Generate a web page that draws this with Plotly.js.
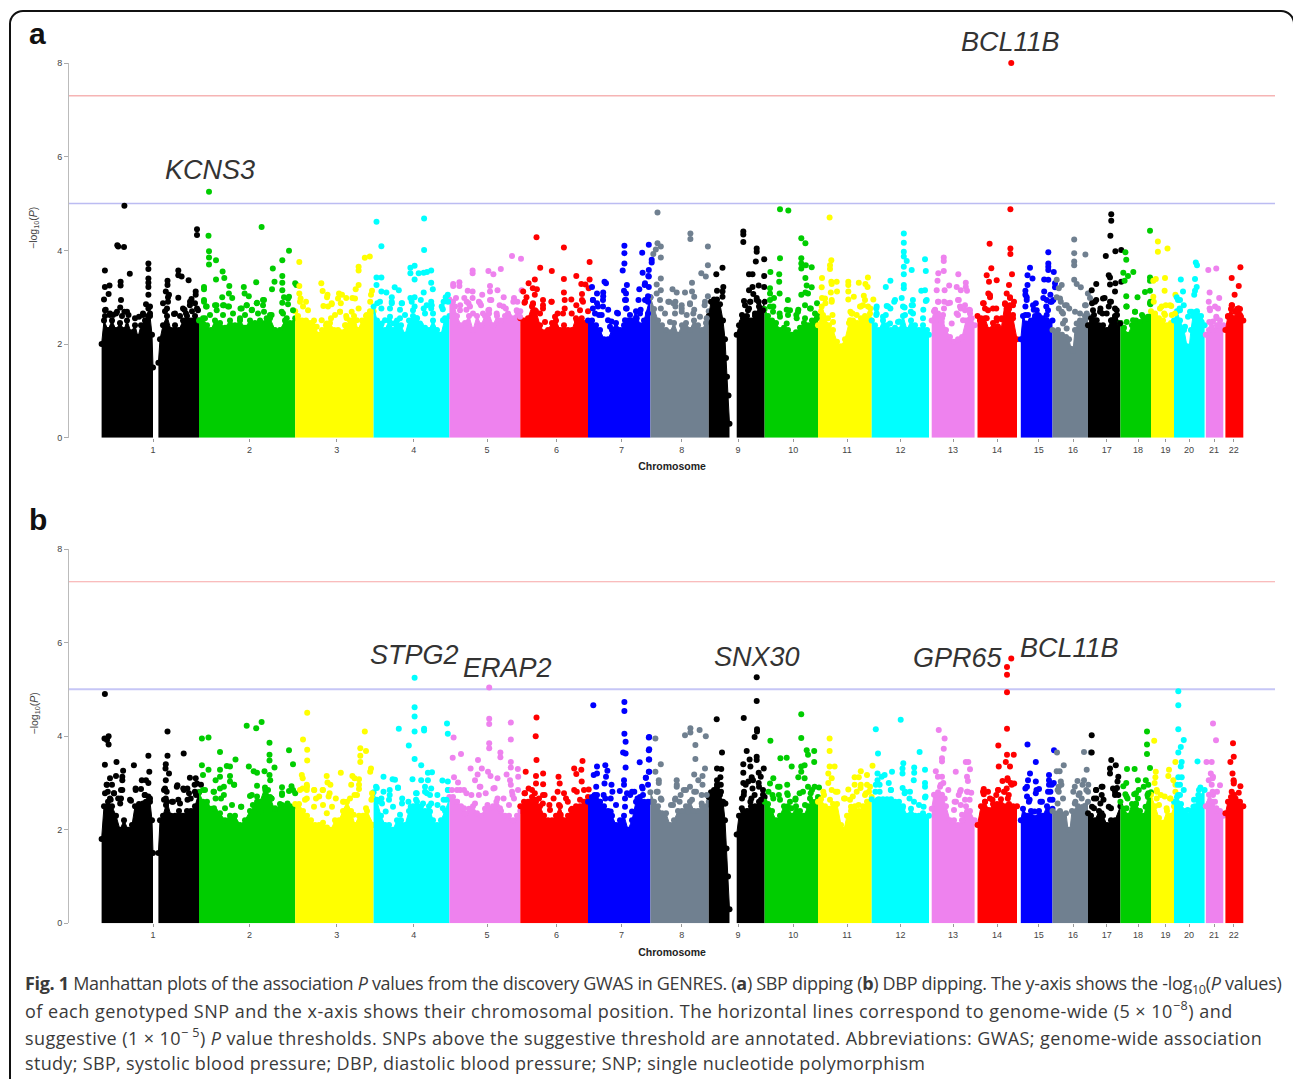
<!DOCTYPE html>
<html>
<head>
<meta charset="utf-8">
<script src="https://cdn.plot.ly/plotly-3.0.1.min.js"></script>
<style>
html,body{margin:0;padding:0;background:#fff;overflow:hidden}
#frame{position:absolute;left:9px;top:10px;width:1286px;height:1090px;box-sizing:border-box;border:2px solid #111;border-radius:14px}
#chart{position:absolute;left:0;top:0;width:1293px;height:1079px}
.annotation[data-index="9"] text{letter-spacing:-0.31px}
.annotation[data-index="10"] text{letter-spacing:0.49px}
.annotation[data-index="11"] text{letter-spacing:0.42px}
.annotation[data-index="12"] text{letter-spacing:0.33px}
</style>
</head>
<body>
<div id="frame"></div>
<div id="chart"></div>
<script>
// Chromosome labels and where their ticks sit on the cumulative genome axis
const chromLabels = ['1','2','3','4','5','6','7','8','9','10','11','12','13','14','15','16','17','18','19','20','21','22'];
const chromTicks = [153,249.6,336.7,413.8,487,556.4,621.5,681.7,738,793.3,847,900.4,953,997,1038.8,1073,1106.7,1138,1165.4,1189,1214,1233.8];
const chromColors = ['#000000','#00cd00','#ffff00','#00ffff','#ee82ee','#ff0000','#0000ff','#708090','#000000','#00cd00','#ffff00','#00ffff','#ee82ee','#ff0000','#0000ff','#708090','#000000','#00cd00','#ffff00','#00ffff','#ee82ee','#ff0000'];
// Chromosomes 1 and 9 have a centromere gap, so they have two solid segments
const segmentChrom = [1,1,2,3,4,5,6,7,8,9,9,10,11,12,13,14,15,16,17,18,19,20,21,22];

// Panel a, SBP dipping: top of the solid mass of SNPs [position, -log10 P]
const sbpCrest = [
[[101.6,2.0],[104,2.5],[108,2.3],[112,2.5],[116,2.3],[120,2.45],[124,2.3],[127,2.5],[131,2.25],[135,2.4],[138,2.15],[141,2.4],[145,2.5],[148,2.6],[150,2.6],[152,2.2],[153,1.5]],
[[158.4,1.6],[160,2.1],[163,2.4],[167,2.6],[171,2.3],[175,2.4],[179,2.3],[183,2.5],[187,2.6],[191,2.5],[195,2.6],[199,2.5]],
[[199,2.5],[203,2.55],[207,2.4],[211,2.3],[215,2.5],[220,2.45],[225,2.35],[230,2.5],[235,2.4],[240,2.5],[245,2.35],[250,2.5],[255,2.45],[260,2.5],[265,2.45],[270,2.55],[275,2.3],[280,2.3],[285,2.5],[290,2.45],[295.2,2.55]],
[[295.2,2.7],[298,2.6],[302,2.5],[306,2.5],[310,2.45],[314,2.5],[318,2.2],[322,2.3],[326,2.4],[330,2.45],[334,2.3],[338,2.3],[342,2.25],[346,2.4],[350,2.5],[354,2.6],[358,2.3],[362,2.5],[366,2.6],[370,2.7],[373.6,2.7]],
[[373.6,2.8],[377,2.5],[381,2.4],[385,2.3],[389,2.5],[393,2.3],[397,2.5],[401,2.4],[405,2.2],[409,2.5],[413,2.6],[417,2.55],[421,2.4],[425,2.35],[429,2.3],[433,2.5],[437,2.3],[441,2.2],[445,2.55],[449.4,2.6]],
[[449.4,2.95],[453,2.9],[457,2.6],[461,2.4],[465,2.45],[469,2.6],[473,2.3],[477,2.6],[481,2.4],[485,2.6],[489,2.65],[493,2.4],[497,2.6],[501,2.5],[505,2.6],[509,2.6],[513,2.55],[517,2.7],[520.3,2.7]],
[[520.3,2.55],[524,2.5],[528,2.55],[532,2.8],[536,2.7],[540,2.4],[544,2.25],[548,2.3],[552,2.45],[556,2.5],[560,2.3],[564,2.4],[568,2.3],[572,2.3],[576,2.55],[580,2.5],[584,2.45],[588,2.4]],
[[588,2.5],[592,2.5],[596,2.4],[600,2.3],[604,2.1],[608,2.1],[612,2.3],[616,2.45],[620,2.3],[624,2.4],[628,2.5],[632,2.5],[636,2.7],[640,2.4],[644,2.5],[650.4,3.0]],
[[650.4,3],[654,2.75],[658,2.5],[662,2.4],[666,2.3],[670,2.25],[674,2.45],[678,2.2],[682,2.4],[686,2.45],[690,2.3],[694,2.5],[698,2.4],[702,2.3],[706,2.45],[708.75,2.7]],
[[708.75,2.6],[711,2.9],[714,2.95],[717,2.95],[720,2.85],[723,2.5],[725,2.1],[726,1.7],[727,1.3],[728.5,0.9],[729.5,0.3]],
[[736.7,2.2],[739,2.4],[743,2.55],[747,2.6],[751,2.5],[755,2.6],[759,2.8],[762,2.75],[764.6,2.9]],
[[764.6,2.75],[768,2.6],[772,2.5],[776,2.45],[780,2.3],[784,2.35],[788,2.3],[792,2.2],[796,2.25],[800,2.35],[804,2.45],[808,2.4],[812,2.5],[818,2.6]],
[[818,2.4],[821,2.7],[825,2.55],[829,2.4],[833,2.3],[837,2.05],[841,1.95],[845,2.1],[849,2.45],[853,2.5],[857,2.45],[861,2.55],[865,2.6],[869,2.55],[871.7,2.5]],
[[871.7,2.5],[875,2.4],[879,2.3],[883,2.5],[887,2.4],[891,2.3],[895,2.35],[899,2.3],[903,2.6],[907,2.3],[911,2.5],[915,2.4],[919,2.3],[923,2.4],[927,2.3],[929,2.2]],
[[931.7,2.5],[934,2.7],[938,2.65],[942,2.55],[946,2.3],[950,2.15],[954,2.05],[958,2.1],[962,2.15],[966,2.5],[970,2.65],[974.6,2.4]],
[[977.5,2.6],[981,2.55],[985,2.55],[989,2.3],[993,2.45],[997,2.3],[1001,2.3],[1005,2.85],[1009,2.75],[1013,2.55],[1017,2.1]],
[[1020.8,2.1],[1023,2.6],[1027,2.4],[1031,2.5],[1035,2.6],[1039,2.6],[1043,2.55],[1047,2.5],[1052.5,2.5]],
[[1052.5,2.3],[1058,2.3],[1062,2.2],[1066,2.15],[1069,2.1],[1071,1.9],[1073,1.85],[1075,2.3],[1080,2.5],[1085,2.6],[1088,2.6]],
[[1088,2.4],[1091,2.55],[1095,2.5],[1099,2.4],[1103,2.4],[1107,2.3],[1111,2.5],[1115,2.6],[1120.4,2.45]],
[[1120.4,2.45],[1124,2.35],[1128,2.2],[1132,2.4],[1136,2.5],[1140,2.45],[1144,2.5],[1148,2.55],[1151,2.6]],
[[1151,2.7],[1155,2.6],[1159,2.55],[1163,2.5],[1167,2.4],[1171,2.45],[1174,2.4]],
[[1174,2.5],[1177,2.7],[1180,2.5],[1184,2.3],[1187,1.95],[1189,1.9],[1191,2.3],[1193,2.6],[1197,2.7],[1201,2.6],[1204.6,2.4]],
[[1205.8,2.2],[1209,2.3],[1213,2.3],[1217,2.4],[1220,2.5],[1223.3,2.4]],
[[1225.4,2.3],[1228,2.6],[1231,2.75],[1234,2.55],[1237,2.75],[1240,2.75],[1243.3,2.5]]
];

// Panel a: individually visible SNPs per chromosome [position, -log10 P]
const sbpDots = [
[[104.9,3.57],[104.9,3.22],[109.5,3.25],[108.6,3.07],[104,2.95],[117.3,4.11],[118.2,4.08],[124,4.07],[124.4,4.95],[129.8,3.5],[120.6,3.33],[120.6,3.25],[121,2.94],[120.2,2.78],[148.4,3.72],[148.4,3.6],[148.4,3.4],[148.4,3.31],[148.4,3.22],[148.4,3.05],[146,2.85],[148.4,2.76],[105.7,2.73],[109.9,2.62],[116,2.65],[124.4,2.69],[128.5,2.62],[143,2.62],[167.5,3.35],[167.5,3.26],[165.8,3.12],[169,3.05],[168,2.9],[167,2.76],[178.3,3.57],[178.3,3.47],[181.6,3.44],[188.6,3.36],[178.3,2.99],[197,4.45],[197,4.33],[195.7,3.12],[195.7,3.05],[191.5,2.96],[174,2.64],[184.5,2.73],[189.9,2.83],[197,2.76]],
[[209,5.25],[208.5,4.31],[209,3.98],[209,3.85],[209,3.7],[216,3.79],[204,3.22],[204,3.17],[216,3.38],[222.6,3.55],[224.3,3.41],[229.3,3.24],[228.9,3.08],[222.2,3],[232.2,2.98],[204,2.9],[206,2.8],[216.4,2.83],[223.9,2.83],[229,2.8],[243.8,3.22],[244.6,3.08],[248.8,3.02],[256.2,3.32],[261.6,4.5],[272.8,3.61],[274.5,3.33],[272,3.17],[282.3,3.79],[289,3.99],[282.3,3.45],[282.3,3.31],[282.3,3.15],[284,3],[282.3,2.88],[289,3.01],[295.2,3.3],[296.4,3.26],[288,2.85],[240.5,2.76],[246.7,2.83],[252,2.73],[257,2.88],[264,2.94],[264,2.69],[271.6,2.62],[283,2.65]],
[[299.3,3.75],[299.3,3.24],[299.3,3.08],[300.6,2.97],[306,2.9],[321.3,3.3],[322.6,3.13],[327.5,3.05],[327,3],[323.4,2.81],[331.7,2.85],[339,3.08],[342,3.05],[346.2,2.98],[340.8,2.87],[340,2.69],[352.4,2.98],[358.6,3.65],[358.6,3.57],[358.6,3.26],[355.7,3.17],[364.8,3.84],[369.8,3.87],[372,3.14],[371,3.05],[370.2,2.9],[358.6,2.76],[346.2,2.6],[331,2.55]],
[[376.5,4.61],[381.4,4.09],[376.5,3.42],[381.4,3.42],[376.5,3.26],[381.4,3.12],[386.4,3.1],[394.7,3.21],[398.8,3.15],[391.8,3],[391.8,2.87],[377.3,2.87],[381.4,2.76],[402,2.87],[400,2.73],[414.6,3.67],[410.4,3.63],[410.4,3.51],[414.6,3.38],[418.7,3.51],[424.1,4.68],[424.1,4.01],[423.7,3.52],[427,3.54],[431.2,3.57],[431.2,3.31],[432.8,3.17],[423.7,3.1],[414.6,3],[410.4,2.98],[420.8,2.94],[431.2,2.9],[423.7,2.76],[414.6,2.8],[445.7,3],[447.8,3.05],[443.6,2.9],[442.8,2.74],[431.2,2.76]],
[[453.2,3.28],[459.4,3.32],[453.2,3.24],[459.4,3.24],[467.7,3.14],[472.6,3.12],[472.6,3.57],[472.6,3.51],[488.4,3.56],[493.4,3.49],[500.8,3.6],[512,3.88],[521,3.82],[490,3.24],[490,3.12],[497.5,3.15],[503.7,3],[482.2,3.05],[472.6,2.98],[456,2.98],[464.3,2.98],[478.9,2.9],[491.3,2.94],[468.5,2.87],[514,2.98],[517.4,2.9],[499.6,2.83],[481,2.83],[466.4,2.73],[521.6,3.15],[460.2,2.83],[505.8,2.76],[489.2,2.73]],
[[536.5,4.28],[563.9,4.06],[589.6,3.75],[540.2,3.63],[551.8,3.56],[563.9,3.39],[534.8,3.38],[528.6,3.3],[532.8,3.19],[536.9,3.17],[523.2,3.12],[526.5,3],[534.8,3.05],[524.5,2.88],[532.8,2.85],[543,2.94],[551.4,2.9],[563.9,3.1],[564.7,2.94],[564.7,2.76],[571.3,2.95],[576.3,3.45],[581.3,3.28],[585.4,3.27],[589.6,3.38],[582,3.07],[582,2.94],[576.3,2.83],[588.7,3.19],[543,2.76],[557.6,2.65],[534.8,2.65],[588,2.7]],
[[592,3.22],[597,3.08],[603.2,3.1],[603.2,3.02],[592.9,2.94],[604.5,3.33],[606,3.3],[597,2.87],[592.9,2.76],[603,2.8],[608.2,2.73],[599,2.62],[617,2.67],[611.5,2.48],[624.4,4.1],[624.4,3.94],[624.4,3.72],[622.7,3.57],[626.9,3.26],[624,3.14],[626,3.08],[626,2.94],[626,2.76],[642.2,3.95],[648.8,4.12],[642.6,3.52],[648.8,3.58],[648.8,3.44],[644.7,3.26],[639.3,3.17],[648.8,3.22],[638.5,2.94],[646.8,2.94],[640.6,2.73],[651.7,3.8],[651.7,3.74],[648.3,3.45],[645,3.3],[648,3.02],[645,2.94]],
[[657.5,4.81],[657.5,4.15],[660.8,4.08],[655.8,4.02],[653.3,3.92],[660.8,3.85],[660.8,3.4],[656.7,3.27],[660.8,3.15],[656.7,3.08],[672.5,3.17],[676.7,3.1],[685,3.1],[692,3.12],[692,3.31],[690.4,4.36],[690.4,4.24],[707.9,4.08],[707.9,3.68],[701.3,3.51],[705.8,3.44],[707.9,3.02],[694.2,3.01],[669.2,2.9],[675.4,2.9],[690,2.85],[681.7,2.76],[675.4,2.8],[704.6,2.83],[694.2,2.73],[660.8,2.76]],
[[716.3,3.49],[722.5,3.63],[723.3,3.22],[717,3.14],[722.5,3.12],[722.5,3.01],[715,2.9],[743.3,4.4],[743.3,4.34],[743.3,4.18],[756.7,4.04],[756.7,3.97],[755.8,3.76],[764.2,3.81],[749,3.49],[752.5,3.49],[764.2,3.45],[758.7,3.25],[764.2,3.22],[752.5,3.22],[749,3.15],[753.3,3.07],[756.7,2.98],[744,2.92],[750.4,2.9],[758.7,2.9],[742,2.62],[749,2.76]],
[[780,4.88],[788.3,4.85],[801.3,4.26],[805.4,4.15],[780,3.83],[801.3,3.83],[801.3,3.72],[801.3,3.61],[805.8,3.68],[811.7,3.64],[770.4,3.54],[779.2,3.49],[779.2,3.33],[770,3.19],[770,3.08],[779.6,3.08],[805.4,3.41],[806.7,3.25],[811.7,3.21],[805.4,3.1],[801.3,3.05],[808,3.08],[774,2.98],[770,2.94],[773.3,2.8],[787.9,2.94],[805,2.83],[817,2.87],[786.7,2.73],[798.3,2.73],[796.3,2.62],[779.6,2.65],[810.8,2.76]],
[[829.6,4.7],[831.3,3.79],[830,3.68],[830,3.6],[822,3.41],[831.3,3.33],[836.7,3.33],[821.7,3.21],[831.7,3.28],[830.8,3.1],[837,3.12],[848.3,3.33],[848.3,3.26],[848.3,3.12],[858.8,3.31],[867.9,3.42],[865.4,3.28],[867.5,3.22],[853.8,3.01],[863.8,3.03],[848.3,2.95],[865,2.94],[873.3,2.95],[822,2.98],[825.4,2.87],[831.7,2.9],[860.8,2.8],[850.4,2.69],[832.5,2.62],[870.4,2.76],[852.5,2.65]],
[[903.8,4.36],[903.8,4.16],[903.8,3.97],[903.8,3.87],[906.7,3.77],[903.8,3.65],[911.7,3.58],[925,3.81],[925.8,3.56],[890.4,3.35],[885.8,3.22],[903.8,3.49],[903.8,3.26],[903.8,3.19],[921.3,3.14],[925,3.15],[901.7,2.98],[894.2,2.9],[925.8,2.92],[912.9,2.94],[912.9,2.83],[876.3,2.76],[876.3,2.62],[886.7,2.81],[890.4,2.76],[904.6,2.78],[910.8,2.69],[923.3,2.73],[885.8,2.62],[899.2,2.48]],
[[943.75,3.85],[943.75,3.77],[943.75,3.56],[938.3,3.51],[958.3,3.49],[937.5,3.35],[965.8,3.31],[965.8,3.22],[949.2,3.25],[944.6,3.15],[936.7,3.15],[956.7,3.22],[960.8,3.15],[967,3.14],[938.3,2.9],[944.2,2.9],[950,2.88],[958.8,2.94],[935,2.73],[960.8,2.76],[965,2.83],[969.2,2.73],[956.7,2.65],[944,2.76]],
[[989.6,4.14],[991.3,3.62],[1010.4,4.88],[1011.25,8],[1010.4,4.04],[1010.4,3.92],[1012,3.49],[986.7,3.47],[989,3.33],[996.7,3.36],[988.3,3.08],[990,3],[983.75,2.87],[985,2.76],[996.25,2.76],[1009,3.26],[1006.7,3.08],[1010,2.98],[1014,2.9],[1010,2.83],[1006.7,2.76],[997.5,2.38],[996.7,2.5],[1001.7,2.53]],
[[1030,3.63],[1027.5,3.47],[1032.5,3.4],[1027.5,3.26],[1025.4,3.14],[1025.4,3.05],[1026.7,2.94],[1025.4,2.8],[1048.3,3.96],[1048.3,3.72],[1048.3,3.65],[1048.3,3.58],[1053.75,3.54],[1044.2,3.38],[1048.3,3.37],[1055,3.3],[1055,3.21],[1044.2,3.12],[1050.4,3.05],[1043.3,2.98],[1050.4,2.9],[1035.8,2.87],[1053.3,2.94],[1033.75,2.73],[1046.25,2.8],[1025.4,2.62],[1038,2.62]],
[[1074.2,4.23],[1074.2,3.94],[1085.4,3.91],[1074.2,3.76],[1074.2,3.68],[1074.2,3.37],[1076.7,3.28],[1080.8,3.21],[1056.7,3.37],[1061.7,3.26],[1058.8,3.19],[1056.7,3],[1060.8,2.9],[1065,2.83],[1087.9,3.08],[1090,2.98],[1085.8,2.83],[1058.8,2.76],[1063,2.65],[1065,2.5],[1069.2,2.76]],
[[1111.25,4.77],[1111.25,4.63],[1110.4,4.31],[1105.8,3.88],[1115.4,3.98],[1121.25,4.01],[1108.75,3.47],[1110,3.42],[1096.25,3.28],[1091.7,3.15],[1110,3.27],[1115.4,3.3],[1121.25,3.33],[1115,3.12],[1096.25,2.94],[1104.6,2.98],[1111,2.9],[1092,2.87],[1100.4,2.76],[1108.75,2.8],[1115,2.76],[1094,2.62],[1102.5,2.65],[1117,2.62]],
[[1150,4.42],[1125.4,3.96],[1126.25,3.8],[1133.3,3.54],[1123.3,3.52],[1128,3.45],[1124.6,3.35],[1150,3.42],[1150,3.35],[1150,3.14],[1145,3.11],[1137.5,3],[1126.25,3.02],[1126.25,2.8],[1150.4,2.9],[1150.4,2.85],[1135,2.69],[1142,2.62]],
[[1157.9,4.19],[1157.9,3.97],[1167.5,4.04],[1155.8,3.39],[1165,3.41],[1153.3,3.35],[1164.6,3.14],[1153.3,3.01],[1153.75,2.9],[1160,2.76],[1165.8,2.83],[1171.25,2.81],[1164.2,2.65],[1175.4,3.05]],
[[1195.8,3.74],[1197,3.68],[1180.8,3.38],[1195,3.39],[1196.7,3.22],[1195,3.14],[1183,3.12],[1194.2,3.05],[1176.7,3],[1180,2.94],[1183.75,2.83],[1179.6,2.76],[1190,2.69],[1196.25,2.69],[1200.4,2.5]],
[[1208.3,3.58],[1216.25,3.61],[1209.6,3.1],[1208.75,2.9],[1219.2,2.98],[1218,2.76],[1216.25,2.58],[1209.6,2.76],[1213,2.48]],
[[1240.4,3.64],[1231.7,3.41],[1238.75,3.24],[1234.6,3.05],[1232,2.83],[1238.75,2.76],[1241,2.58]]
];

const sbpBand = [
[[105,2.72],[105,2.6],[110,2.65],[117,2.69],[113,2.62],[127,2.69],[122,2.6],[135,2.55],[143,2.65],[139,2.58],[150,2.8],[150,2.65],[163,2.87],[168,3.0],[165,2.7],[175,2.65],[183,2.76],[180,2.6],[190,2.9],[195,2.87],[198,2.72],[186,2.65],[192,2.7]],
[[204,2.94],[206.7,2.8],[215,2.83],[223,2.83],[228,2.8],[216.7,2.72],[241.7,2.76],[246.7,2.83],[256.7,2.87],[263,2.94],[263,2.83],[251.7,2.72],[245,2.62],[258,2.65],[270,2.62],[281.7,2.69],[210,2.62],[223,2.62],[233,2.65],[240,2.55],[286.7,2.55],[293,2.72],[288,2.97],[266.7,2.55],[205,2.55]],
[[300,2.9],[303,2.8],[308,2.72],[321.7,2.51],[328,2.8],[331.7,2.87],[335,2.62],[340,2.69],[346.7,2.55],[351.7,2.69],[356.7,2.51],[363,2.37],[366.7,2.62],[370,2.51],[355,2.97],[338,2.97],[316.7,2.37],[326.7,2.44],[345,2.4]],
[[380,2.9],[385,2.51],[390,2.76],[391.7,2.9],[390,2.58],[400,2.55],[401.7,2.87],[411.7,2.9],[413,2.72],[416.7,2.55],[420,2.44],[425,2.65],[431.7,2.83],[433,2.65],[443,2.51],[448,2.9],[441.7,2.8],[405,2.62],[426.7,2.83],[381.7,2.44],[393.3,2.44],[410,2.37]],
[[455,2.8],[460,2.72],[466.7,2.9],[470,2.8],[480,2.87],[488.3,2.72],[490,2.94],[503.3,2.8],[513.3,2.9],[516.7,2.72],[473,2.65],[483,2.65],[496.7,2.65],[508,2.65],[520,2.58]],
[[525,2.9],[533,2.87],[535,2.72],[543,2.83],[551.7,2.9],[540,2.65],[555,2.58],[563,2.65],[571.7,2.65],[580,2.72],[583,2.9],[581.7,2.55],[533,2.58],[545,2.47],[576.7,2.51]],
[[593,2.94],[598,2.8],[603,2.94],[595,2.65],[601.7,2.62],[608,2.51],[618,2.65],[625,2.94],[626.7,2.76],[630,2.62],[640,2.65],[648,2.9],[648,2.65],[625,2.51],[636.7,2.55],[610,2.37]],
[[660,2.94],[668.3,2.9],[673.3,2.87],[681.7,2.83],[690,2.87],[681.7,2.69],[693.3,2.65],[700,2.58],[705,2.9],[665,2.65],[675,2.65],[686.7,2.62],[670,2.47],[706.7,2.55]],
[[745,2.83],[750,2.9],[756.7,2.94],[748,2.72],[755,2.65],[763,2.72],[741.7,2.47],[745,2.58]],
[[770,2.8],[773,2.69],[790,2.72],[798,2.69],[810,2.76],[815,2.65],[788,2.62],[780,2.58],[796.7,2.55],[805,2.55],[786.7,2.44],[816.7,2.55]],
[[821.7,2.8],[825,2.97],[831.7,2.94],[823,2.62],[828,2.55],[833,2.47],[851.7,2.65],[860,2.8],[863,2.83],[850,2.51],[856.7,2.62],[868,2.8],[870,2.65]],
[[876.7,2.8],[876.7,2.65],[883,2.58],[898,2.47],[905,2.62],[911.7,2.83],[913,2.65],[923,2.55],[926.7,2.94],[888,2.8],[895,2.94],[903,2.8],[890,2.44]],
[[935,2.72],[938,2.9],[948,2.87],[958,2.94],[960,2.8],[970,2.72],[965,2.72],[943,2.62],[941.7,2.47],[958,2.62],[963,2.51],[971.7,2.55],[951.7,2.44]],
[[983,2.87],[988,2.72],[993,2.76],[980,2.51],[996.7,2.55],[1001.7,2.55],[1010,3],[1005,2.87],[1013,2.83],[1008,2.69],[1013,2.62],[990,3.04],[998,2.37],[986.7,2.55]],
[[1026.7,3],[1033,2.83],[1036.7,2.72],[1028,2.62],[1040,2.51],[1046.7,2.94],[1051.7,2.9],[1048,2.72],[1046.7,2.62],[1026.7,2.44],[1035,2.55]],
[[1060,2.97],[1066.7,2.83],[1061.7,2.69],[1063,2.44],[1066.7,2.33],[1056.7,2.23],[1075,2.69],[1085,2.83],[1080,2.65],[1086.7,2.65],[1076.7,2.44]],
[[1095,2.9],[1103,2.97],[1110,2.9],[1093,2.72],[1100,2.69],[1106.7,2.65],[1116.7,2.72],[1115,2.55],[1096.7,2.51],[1111.7,2.51],[1120,2.44]],
[[1126.7,2.8],[1135,2.69],[1143,2.58],[1126.7,2.47],[1133,2.51],[1140,2.47],[1148,2.58],[1150,2.87]],
[[1155,2.65],[1161.7,2.8],[1170,2.83],[1171.7,2.62],[1165,2.62],[1175,2.65]],
[[1178,2.94],[1180,2.72],[1191.7,2.69],[1196.7,2.65],[1200,2.58],[1201.7,2.47],[1185,2.37],[1188,2.58]],
[[1215,2.8],[1210,2.72],[1209.3,2.47],[1216.7,2.55],[1218,2.4],[1211.7,2.37]],
[[1231.7,2.83],[1238.3,2.76],[1228,2.58],[1240,2.62],[1235,2.69],[1238,2.51],[1230,2.44]]
];

// Panel b, DBP dipping: top of the solid mass of SNPs [position, -log10 P]
const dbpCrest = [
[[101.6,1.8],[104,2.5],[108,2.6],[112,2.5],[116,2.3],[120,2.0],[124,2.2],[128,2.0],[132,2.1],[135,2.5],[139,2.55],[143,2.5],[146,2.6],[150,2.6],[152,2.2],[153,1.5]],
[[158.4,1.5],[160,2.2],[163,2.3],[167,2.6],[171,2.3],[175,2.3],[179,2.4],[183,2.3],[187,2.4],[191,2.4],[195,2.5],[199,2.8]],
[[199,2.8],[203,2.6],[207,2.5],[211,2.45],[215,2.4],[220,2.35],[225,2.2],[230,2.3],[235,2.3],[240,2.1],[245,2.2],[250,2.4],[255,2.5],[260,2.6],[265,2.9],[270,2.7],[275,2.4],[280,2.55],[285,2.5],[290,2.5],[295.2,2.5]],
[[295.2,2.55],[299,2.55],[303,2.4],[307,2.3],[311,2.2],[315,2.1],[319,2.1],[323,2.15],[327,2.05],[331,2.0],[335,2.2],[339,2.2],[343,2.4],[347,2.6],[351,2.4],[355,2.1],[359,2.3],[363,2.3],[367,2.4],[373.6,2.1]],
[[373.6,2.8],[377,2.6],[381,2.3],[385,2.1],[389,2.1],[393,2.0],[397,2.2],[401,2.2],[405,2.1],[409,2.4],[413,2.5],[417,2.6],[421,2.5],[425,2.4],[429,2.5],[433,2.2],[437,2.1],[441,2.2],[445,2.4],[449.4,2.65]],
[[449.4,2.7],[453,2.7],[457,2.6],[461,2.5],[465,2.35],[469,2.45],[473,2.5],[477,2.35],[481,2.3],[485,2.45],[489,2.45],[493,2.5],[497,2.5],[501,2.4],[505,2.3],[509,2.3],[513,2.2],[517,2.3],[520.3,2.4]],
[[520.3,2.5],[524,2.6],[528,2.6],[532,2.7],[536,2.6],[540,2.5],[544,2.3],[548,2.2],[552,2.2],[556,2.3],[560,2.5],[564,2.2],[568,2.3],[572,2.45],[576,2.5],[580,2.5],[584,2.6],[588,2.7]],
[[588,2.6],[592,2.7],[596,2.65],[600,2.6],[604,2.5],[608,2.4],[612,2.3],[616,2.1],[620,2.2],[624,2.3],[628,2],[632,2.2],[636,2.6],[640,2.7],[644,2.6],[648,2.6],[650.4,2.6]],
[[650.4,2.8],[654,2.6],[658,2.5],[662,2.35],[666,2.35],[670,2.1],[674,2.2],[678,2.4],[682,2.4],[686,2.5],[690,2.6],[694,2.4],[698,2.4],[702,2.5],[706,2.5],[708.75,2.6]],
[[708.75,2.7],[711,2.8],[714,2.85],[717,2.9],[720,2.75],[723,2.6],[725,2.2],[726.5,1.6],[728,1.0],[729.5,0.3]],
[[736.7,1.9],[739,2.3],[743,2.4],[747,2.4],[751,2.5],[755,2.5],[759,2.6],[763,2.75],[764.6,2.7]],
[[764.6,2.6],[768,2.55],[772,2.4],[776,2.2],[780,2.3],[784,2.5],[788,2.5],[792,2.3],[796,2.5],[800,2.4],[804,2.3],[808,2.5],[812,2.6],[818,2.7]],
[[818,2.6],[821,2.65],[825,2.5],[829,2.45],[833,2.55],[837,2.55],[841,2.1],[844,2],[847,2.3],[851,2.4],[855,2.5],[859,2.4],[863,2.5],[867,2.6],[871.7,2.7]],
[[871.7,2.65],[875,2.6],[879,2.65],[883,2.65],[887,2.65],[891,2.65],[895,2.6],[899,2.6],[903,2.5],[907,2.3],[911,2.45],[915,2.3],[919,2.3],[923,2.35],[929,2.3]],
[[931.7,2.45],[934,2.75],[938,2.8],[942,2.75],[946,2.5],[950,2.2],[954,2.2],[958,2.1],[962,2.2],[966,2.5],[970,2.4],[974.6,2.2]],
[[977.5,2.1],[981,2.5],[985,2.6],[989,2.4],[993,2.55],[997,2.55],[1001,2.65],[1005,2.5],[1009,2.55],[1013,2.5],[1017,2.5]],
[[1020.8,2.2],[1023,2.45],[1027,2.3],[1031,2.4],[1035,2.25],[1039,2.4],[1043,2.3],[1047,2.5],[1052.5,2.45]],
[[1052.5,2.4],[1060,2.4],[1066,2.35],[1068,2.0],[1070,2.0],[1072,2.4],[1078,2.5],[1088,2.6]],
[[1088,2.35],[1091,2.3],[1095,2.2],[1099,2.4],[1103,2.3],[1107,2.1],[1111,2.2],[1115,2.2],[1120.4,2.5]],
[[1120.4,2.6],[1124,2.45],[1128,2.3],[1132,2.55],[1136,2.55],[1140,2.4],[1144,2.3],[1148,2.7],[1151,2.8]],
[[1151,2.75],[1155,2.5],[1159,2.25],[1163,2.15],[1167,2.4],[1171,2.3],[1174,2.5]],
[[1174,2.6],[1177,2.7],[1181,2.55],[1185,2.4],[1188,2.3],[1191,2.4],[1195,2.5],[1199,2.7],[1204.6,2.85]],
[[1205.8,2.5],[1209,2.75],[1213,2.6],[1217,2.4],[1220,2.4],[1223.3,2.3]],
[[1225.4,2.35],[1228,2.6],[1231,2.7],[1234,2.75],[1237,2.6],[1240,2.6],[1243.3,2.5]]
];

// Panel b: individually visible SNPs per chromosome [position, -log10 P]
const dbpDots = [
[[104.9,4.9],[108.6,4],[104.5,3.95],[107,3.92],[108.6,3.82],[104.9,3.39],[116.5,3.45],[123.1,3.26],[122.3,3.13],[116,3.15],[110,3.1],[106.6,2.96],[122.3,3.06],[122.3,2.85],[112,2.96],[107.8,2.81],[114,2.78],[118.2,2.67],[110,2.67],[133.9,3.38],[148.4,3.58],[149.3,3.24],[141.8,3.06],[146,3.06],[148.4,3],[135.6,2.88],[141,2.87],[145,2.74],[131,2.62],[148.4,2.71],[143,2.56],[120.2,2.56],[167.5,4.1],[167.5,3.58],[183.7,3.63],[165.8,3.4],[165.5,3.31],[169,3.2],[165.8,3.06],[165,2.88],[166.7,2.81],[165.8,2.67],[177.4,2.95],[189.9,3.11],[195.7,3.1],[197,2.99],[201,2.96],[183.25,2.88],[187.4,2.88],[178.3,2.64],[194.9,2.81],[172,2.6],[190.7,2.67]],
[[201.9,3.95],[208.5,3.97],[220,3.66],[235.5,3.5],[201.9,3.38],[208.5,3.28],[226.8,3.36],[230,3.35],[220,3.28],[203,3.17],[220,3.13],[230,3.15],[215.6,3.06],[230,3.03],[234.2,2.96],[223.9,2.92],[220,2.88],[213.5,2.81],[203,2.85],[223.9,2.74],[215.6,2.67],[246.7,4.22],[256.2,4.17],[261.6,4.3],[269.5,3.86],[269.5,3.6],[269.5,3.48],[289,3.7],[293,3.4],[248.8,3.35],[253.7,3.25],[257,3.22],[264.5,3.25],[274.5,3.33],[269.5,3.17],[270.2,3.06],[257,2.94],[250,2.72],[257,2.71],[265.3,2.85],[282,2.91],[291.5,2.93],[282,2.78],[289,2.83],[295.2,2.78],[241.3,2.49],[252.9,2.53],[271.6,2.67]],
[[307.2,4.5],[303,3.93],[307.2,3.71],[307.2,3.48],[301.8,3.17],[302.7,3.1],[306.8,2.96],[302.7,2.88],[306.8,2.85],[314.3,2.85],[322.6,2.85],[326.7,3.15],[327.5,3.01],[330.4,2.96],[329.6,2.78],[319.2,2.71],[306.8,2.67],[340.8,3.22],[352.4,3.15],[354.5,3.1],[351.2,2.96],[359,3.08],[359,2.87],[364.8,4.1],[360.3,3.74],[366,3.68],[360.3,3.58],[360.3,3.45],[371,3.31],[370.2,3.24],[372,2.78],[372.3,2.67],[354.5,2.74],[344,2.6],[335.8,2.67]],
[[414.6,5.25],[414.6,4.62],[414.6,4.42],[414.6,4.1],[424.1,4.16],[424.1,4.12],[398.8,4.16],[408.8,3.8],[414.6,3.51],[421.2,3.38],[447,4.27],[447.8,4.05],[383.5,3.13],[392.6,3.08],[395,3.07],[412.5,3.08],[421.2,3.06],[427.9,3.22],[432,3.23],[427.9,3.06],[442.4,3.05],[447.8,3.03],[376,2.92],[383.5,2.81],[389.7,2.85],[398,2.9],[425,2.92],[416.7,2.78],[431.2,2.88],[437.4,2.74],[447.8,2.85],[427,2.78],[381.4,2.67],[389.7,2.74],[402.2,2.67],[408.4,2.6],[443.6,2.64],[431.2,2.56]],
[[489.2,5.04],[489.2,4.37],[489.2,4.26],[510.8,4.29],[510.8,3.93],[453.6,3.97],[489.2,3.85],[489.2,3.74],[500.4,3.65],[500.4,3.55],[461,3.62],[452.7,3.54],[478,3.49],[510.8,3.45],[510.8,3.33],[517.8,3.3],[470.6,3.31],[481.8,3.31],[488,3.24],[477.6,3.18],[490.5,3.15],[497.5,3.1],[506.6,3.18],[454,3.12],[518.2,3.13],[458,3.01],[510,3.06],[475,3.06],[510.8,2.96],[460.2,2.85],[479.7,2.92],[493.4,2.88],[512,2.81],[466.4,2.78],[497.5,2.67],[451.9,2.85],[478.9,2.74],[514,2.67]],
[[536.5,4.4],[535.7,4],[536.5,3.49],[525.7,3.24],[536,3.15],[543.1,3.2],[536,2.99],[543.1,2.97],[528.6,2.88],[524.5,2.78],[534.8,2.78],[558.5,3.13],[559.7,2.99],[557.6,2.81],[574.2,3.31],[582.5,3.47],[581.3,3.28],[576.3,3.19],[581.7,3.03],[574.2,2.85],[588.7,2.86],[543,2.74],[549.4,2.53],[566,2.67],[539,2.67]],
[[593.3,4.66],[624.4,4.73],[624.4,4.54],[624.4,4.05],[625.6,3.88],[623.1,3.65],[625.6,3.63],[648.8,3.97],[648.8,3.7],[639.7,3.44],[648.8,3.5],[625.6,3.33],[645.9,3.11],[648.8,3.24],[593.7,3.17],[597,3.35],[597,3.2],[605.3,3.38],[607.4,3.26],[606,3.13],[604.5,2.99],[611.5,2.96],[596.2,2.92],[612.4,2.81],[624,3.06],[624,2.96],[619.8,2.83],[634.3,2.81],[642.6,2.88],[627,2.78],[630.2,2.74],[597,2.74],[605.3,2.67],[649.2,3.98],[649.2,3.72],[649.2,3.5],[649.2,3.24],[645.8,3.11],[642,2.92]],
[[655.4,3.95],[685,4.02],[690.4,4.17],[690.4,4.08],[699.6,4.13],[705.8,4],[695.4,3.81],[695.4,3.51],[660.8,3.4],[655.4,3.24],[705,3.31],[694.2,3.18],[702.5,3.15],[698.3,3.06],[676.7,3.06],[658.8,3.06],[658.8,3],[702.5,2.96],[676.7,2.92],[656.7,2.81],[683.75,2.85],[690,2.92],[694.2,2.81],[675.4,2.67],[679.6,2.6],[671,2.53],[706.7,2.74],[660.8,2.67]],
[[716.7,4.36],[722,3.65],[717,3.31],[721.25,3.3],[720.4,3.12],[717,3.06],[717,2.96],[715,2.71],[721,2.81],[725.4,2.56],[756.7,5.26],[756.7,4.75],[743.75,4.39],[757,4.15],[757,4.1],[754.6,3.98],[746.7,3.68],[756.7,3.56],[756.7,3.49],[749.6,3.5],[750.4,3.35],[743.3,3.4],[743.3,3.22],[763.75,3.31],[758.7,3.22],[760.8,3.13],[751.7,3.12],[743.3,3],[748.3,3.03],[758.7,3],[744,2.81],[752.5,2.88],[763,2.85],[742,2.67],[754.6,2.74],[750.4,2.6]],
[[801.25,4.47],[801.25,3.96],[770.4,3.9],[780.4,3.53],[786.7,3.54],[806.7,3.7],[808,3.6],[814.2,3.68],[814.2,3.45],[791.7,3.35],[801.25,3.35],[801.25,3.24],[804.6,3.38],[798.3,3.12],[804.6,3.1],[773.3,3.1],[770,2.99],[779.6,2.92],[808,2.92],[787.2,2.96],[819,2.9],[812,2.85],[799.6,2.78],[768.5,2.81],[778.9,2.74],[787.2,2.78],[773.3,2.67],[790,2.6],[795.5,2.67],[810,2.67]],
[[829.6,3.95],[829.6,3.68],[829.6,3.35],[834.6,3.35],[828.3,3.2],[831.7,3.1],[828.3,3],[831.7,2.85],[823.3,2.81],[835.8,2.81],[860.8,3.25],[867,3.17],[854.6,3.12],[858.8,3.12],[872.5,3.37],[854.6,2.96],[860.8,2.96],[848.3,2.86],[867,2.96],[856.7,2.81],[844,2.67],[865,2.74],[869,2.81],[850,2.64]],
[[875.8,4.15],[900.7,4.35],[878,3.63],[919.6,3.66],[925,3.28],[903.3,3.42],[902.5,3.31],[902.5,3.2],[914.2,3.33],[914.2,3.22],[913.75,3.06],[892,3.24],[884.6,3.17],[877.5,3.2],[881.7,3.13],[877.5,3.06],[888.75,3],[879.6,2.96],[925,3],[925,2.92],[905.3,2.81],[890.8,2.85],[875.4,2.81],[925,2.69],[909.5,2.67],[904.6,2.78],[919,2.53]],
[[938.75,4.13],[944.6,3.95],[943.75,3.73],[942,3.53],[942,3.46],[935.8,3.25],[955.75,3.24],[965.8,3.45],[968.3,3.45],[970,3.29],[967,3.13],[967.9,3.04],[937.9,3.13],[942,3.13],[943.3,3],[940,2.92],[960.8,2.85],[967,2.81],[971.25,2.79],[958.75,2.74],[948.3,2.85],[954.6,2.6],[965,2.64],[960.8,2.53]],
[[1011.25,5.66],[1007,5.48],[1007,5.31],[1007,4.94],[1007,4.16],[998.3,3.8],[1007,3.6],[1013.75,3.6],[998.75,3.35],[1005.8,3.45],[1010,3.35],[1007.5,3.1],[1002.5,3.04],[1010.8,3],[1014.2,2.99],[1006.7,2.88],[998.3,2.85],[983.75,2.87],[983.75,2.76],[990,2.67],[1008.75,2.74],[1004.6,2.81],[988,2.81],[996.25,2.74]],
[[1027.5,3.82],[1035.8,3.45],[1054,3.7],[1030,3.2],[1028,3.06],[1025.4,2.88],[1035.8,3.03],[1039,2.87],[1035.8,2.78],[1049,3.17],[1049,3.06],[1049,2.96],[1053.75,3],[1050.4,2.81],[1029.6,2.64],[1042,2.6],[1052.5,2.64]],
[[1057,3.65],[1084,3.66],[1090.8,3.65],[1063.75,3.38],[1059.6,3.25],[1056.7,3.25],[1086.7,3.28],[1084,3.06],[1060.8,3.03],[1058.75,2.92],[1077.5,3.04],[1088.3,2.96],[1073.3,2.81],[1079.6,2.78],[1088,2.81],[1058.75,2.81],[1063,2.67],[1081.7,2.67],[1075.4,2.6]],
[[1091.7,4.02],[1091.7,3.65],[1111.25,3.49],[1115.8,3.38],[1110,3.31],[1110,3.2],[1118.3,3.13],[1117.5,3.03],[1102.5,2.92],[1096.25,2.85],[1113,2.88],[1101.7,2.74],[1096.25,2.67],[1118.3,2.74],[1115,2.81],[1092,2.49],[1100.4,2.56],[1108.75,2.49]],
[[1147,4.1],[1147,3.82],[1147,3.62],[1127,3.3],[1134.6,3.3],[1150,3.32],[1145.8,3.06],[1137.9,3.06],[1126.25,3],[1123.3,2.93],[1148.3,2.96],[1138.75,2.85],[1134.2,2.76],[1125.4,2.76],[1148.3,2.78],[1137.9,2.67],[1127.5,2.67]],
[[1154.2,3.9],[1155.8,3.24],[1169,3.28],[1168.3,3.15],[1175.4,3.45],[1155.4,3.12],[1154.6,3],[1173.3,3.06],[1175.4,2.96],[1156.7,2.85],[1160.8,2.74],[1156.7,2.67],[1170,2.67],[1175.4,2.81]],
[[1178.3,4.96],[1178.3,4.66],[1178.3,4.15],[1183.75,3.92],[1180.8,3.77],[1178.3,3.65],[1181.7,3.45],[1180.8,3.35],[1197.5,3.46],[1178.3,3.12],[1181.7,3.12],[1177.5,2.96],[1183.75,2.85],[1180,2.74],[1200.4,2.9],[1198.3,2.74],[1194,2.64]],
[[1213,4.27],[1216,3.91],[1206.5,3.45],[1211.7,3.45],[1210.8,3.2],[1213,3.13],[1220,2.95],[1211.7,2.96],[1217,2.81],[1213,2.74],[1208.75,3.06],[1215,2.6],[1211.7,2.53]],
[[1233,3.85],[1233.75,3.56],[1230.4,3.45],[1232.5,3.2],[1233.75,3.03],[1240.4,2.93],[1238.75,2.79],[1233.75,2.99]]
];

const dbpBand = [
[[107,2.96],[114,2.78],[121,2.85],[105,2.78],[110.7,2.64],[121,2.67],[130,2.64],[135.7,2.85],[144.6,2.74],[144.6,2.56],[150,2.67],[137.5,2.39],[164,2.85],[164,2.64],[176.8,2.92],[184,2.85],[189,2.78],[194.6,2.96],[187.5,2.64],[173,2.6],[180,2.56],[196,2.74],[166,2.53]],
[[205,2.85],[214,2.81],[221,2.67],[232,2.53],[214,2.46],[225,2.46],[234,2.96],[241,2.49],[251.8,2.74],[257,2.6],[260.7,2.39],[268,2.85],[271.4,2.67],[282,2.74],[287.5,2.56],[293,2.85],[275,2.46],[282,2.53],[253.6,2.39],[207,2.6]],
[[300,2.85],[307,2.92],[305,2.64],[314,2.85],[316,2.67],[323,2.85],[328.6,2.71],[314,2.49],[323,2.53],[332,2.49],[343,2.6],[350,2.67],[357,2.74],[346,2.42],[366,2.46],[371.4,2.64],[359,2.96],[326.8,2.35],[353.6,2.32]],
[[376.8,2.89],[376.8,2.64],[382,2.56],[398,2.89],[389,2.64],[402,2.56],[393,2.49],[385.7,2.39],[416,2.78],[416,2.64],[425,2.81],[430,2.74],[423,2.56],[437.5,2.53],[446.4,2.64],[442.8,2.46],[410.7,2.49],[430,2.39],[448,2.85],[400,2.32]],
[[457,2.85],[464,2.85],[471.4,2.74],[480.4,2.92],[485.7,2.78],[494.6,2.89],[503.6,2.67],[512.5,2.74],[518,2.85],[457,2.6],[475,2.56],[487.5,2.53],[496.4,2.6],[509,2.53],[464,2.46],[500,2.46]],
[[525,2.78],[532,2.85],[544.6,2.74],[553.6,2.67],[564,2.78],[576.8,2.81],[584,2.85],[542.8,2.56],[559,2.53],[567.8,2.6],[580,2.64],[535.7,2.64],[550,2.42],[571,2.42],[560.7,2.32]],
[[594.6,2.74],[603.6,2.74],[610.7,2.67],[600,2.6],[616,2.53],[625,2.67],[632,2.81],[637.5,2.67],[643,2.74],[648,2.96],[625,2.49],[632,2.39],[610.7,2.39],[594.6,2.53]],
[[676.8,2.96],[686,2.85],[696,2.81],[701.7,2.74],[675,2.64],[680.6,2.74],[692,2.64],[701.7,2.56],[661.5,2.64],[657.7,2.81],[673,2.53],[688,2.39],[705.5,2.46]],
[[719,2.81],[715,2.67],[724.6,2.56],[720.8,2.96],[745.7,2.96],[753,3.06],[743.8,2.74],[759,2.92],[751.4,2.67],[761,2.64],[741.8,2.46],[747.6,2.39]],
[[778,2.92],[780,2.64],[787.8,2.74],[795.4,2.64],[803,2.81],[810.7,2.78],[814.6,2.92],[785.9,2.46],[805,2.53],[772.5,2.74],[791.6,2.46]],
[[824,2.74],[830,2.64],[837.5,2.81],[845,2.67],[852.8,2.71],[860.5,2.89],[866,2.78],[870,2.92],[858.6,2.53],[851,2.49]],
[[875.8,2.96],[879.6,2.81],[891,2.85],[902.6,2.89],[910,2.81],[925.5,2.71],[877.7,2.64],[895,2.56],[914,2.6],[923.6,2.49],[902.6,2.46]],
[[940.8,2.96],[944.7,2.67],[956,2.6],[960,2.81],[967.6,2.81],[954,2.42],[969.6,2.64],[937,2.74],[962,2.32]],
[[983,2.81],[985,2.6],[992.5,2.64],[998,2.85],[1007.8,3.06],[1011.7,2.96],[1004,2.81],[1007.8,2.67],[988.7,2.42],[996.3,2.53]],
[[1027,2.92],[1027,2.71],[1036.5,2.85],[1040.4,2.6],[1050,2.64],[1048,2.81],[1051.8,2.96],[1028.9,2.6],[1034.6,2.39]],
[[1057.6,2.85],[1061.4,2.96],[1074.8,2.92],[1082.5,2.96],[1078.6,2.74],[1086.3,2.85],[1057.6,2.56],[1074.8,2.56]],
[[1096,2.85],[1101.6,2.92],[1094,2.67],[1103.5,2.64],[1115,2.74],[1117,2.89],[1094,2.46],[1101.6,2.35],[1111,2.46]],
[[1126.5,2.71],[1136,2.78],[1143.7,2.92],[1147.5,2.74],[1126.5,2.46],[1136,2.56],[1145.6,2.49]],
[[1157,2.81],[1164.7,2.71],[1170.5,2.67],[1159,2.53],[1166.6,2.46]],
[[1180,2.96],[1178,2.74],[1199,2.85],[1197,2.64],[1187.7,2.42],[1193.4,2.49]],
[[1212.6,2.81],[1208.7,2.56],[1216.4,2.46],[1212.6,3.1]],
[[1231.7,2.81],[1235.5,2.67],[1229.8,2.56],[1239.4,2.56],[1233.6,3.06]]
];

// Significance thresholds, -log10 P
const genomeWideLine = 7.3;
const suggestiveLine = 5;

// Gene labels: [name, x pixel, y pixel]
const geneLabels = [['KCNS3',210,170],['BCL11B',1010,42],['STPG2',414.6,655],['ERAP2',507.5,667.7],['SNX30',756.7,656.7],['GPR65',957.5,658],['BCL11B',1069,647.7]];
const captionLines = [
 '<b>Fig. 1</b> Manhattan plots of the association <i>P</i> values from the discovery GWAS in GENRES. (<b>a</b>) SBP dipping (<b>b</b>) DBP dipping. The y-axis shows the -log<sub>10</sub>(<i>P</i> values)',
 'of each genotyped SNP and the x-axis shows their chromosomal position. The horizontal lines correspond to genome-wide (5 × 10<sup>−8</sup>) and',
 'suggestive (1 × 10<sup>− 5</sup>) <i>P</i> value thresholds. SNPs above the suggestive threshold are annotated. Abbreviations: GWAS; genome-wide association',
 'study; SBP, systolic blood pressure; DBP, diastolic blood pressure; SNP; single nucleotide polymorphism'
];

const W = 1293, H = 1079;
const px = v => v / W, py = v => 1 - v / H;
const traces = [];
function addPanel(crest, dots, band, xa, ya) {
  crest.forEach((seg, i) => {
    const col = chromColors[segmentChrom[i] - 1];
    traces.push({type:'scatter', mode:'lines+markers', x:seg.map(p=>p[0]), y:seg.map(p=>p[1]), xaxis:xa, yaxis:ya,
      fill:'tozeroy', fillcolor:col, line:{color:col,width:1}, marker:{color:col,size:6}, hoverinfo:'skip', showlegend:false});
  });
  dots.forEach((d, i) => {
    const all = d.concat(band[i]);
    traces.push({type:'scatter', mode:'markers', x:all.map(p=>p[0]), y:all.map(p=>p[1]), xaxis:xa, yaxis:ya, cliponaxis:false,
      marker:{color:chromColors[i],size:6}, hoverinfo:'skip', showlegend:false});
  });
}
addPanel(sbpCrest, sbpDots, sbpBand, 'x', 'y');
addPanel(dbpCrest, dbpDots, dbpBand, 'x2', 'y2');

const tickFont = {family:'Liberation Sans, Arial, sans-serif', size:9, color:'#444'};
const xAxis = (anchor) => ({anchor, domain:[px(69),px(1275)], range:[69,1275], tickmode:'array', tickvals:chromTicks, ticktext:chromLabels,
  ticks:'outside', ticklen:3, tickcolor:'#999', tickfont:tickFont, showgrid:false, zeroline:false, showline:false,
  title:{text:'<b>Chromosome</b>', font:{family:'Liberation Sans, Arial, sans-serif', size:10.5, color:'#222'}, standoff:9}});
const yAxis = (anchor, top, bottom) => ({anchor, domain:[py(bottom),py(top)], range:[0,8], tickmode:'array', tickvals:[0,2,4,6,8], ticks:'outside', ticklen:4,
  tickcolor:'#aaa', tickfont:tickFont, showgrid:false, zeroline:false, showline:true, linecolor:'#bbb', linewidth:1});

const hline = (y, yref, color, width) => ({type:'line', xref:'x', yref, x0:69, x1:1275, y0:y, y1:y, line:{color,width}, layer:'below'});
const gene = g => ({xref:'paper', yref:'paper', x:px(g[1]), y:py(g[2]), xanchor:'center', yanchor:'middle', showarrow:false, text:'<i>'+g[0]+'</i>',
  font:{family:'Liberation Sans, Arial, sans-serif', size:27, color:'#333'}});
const panelTag = (t, x, y) => ({xref:'paper', yref:'paper', x:px(x), y:py(y), xanchor:'center', yanchor:'middle', showarrow:false, text:'<b>'+t+'</b>',
  font:{family:'Liberation Sans, Arial, sans-serif', size:30, color:'#111'}});
const capY = [984,1010,1037,1063];
const capLine = (t, i) => ({xref:'paper', yref:'paper', x:px(23), y:py(capY[i]), xanchor:'left', yanchor:'middle', showarrow:false, align:'left', text:t,
  font:{family:'Open Sans, Noto Sans, sans-serif', size:18, color:'#3a3a3a'}});
const yTitle = y => ({xref:'paper', yref:'paper', x:px(34), y:py(y), xanchor:'center', yanchor:'middle', showarrow:false, textangle:-90, text:'−log<sub>10</sub>(<i>P</i>)',
  font:{family:'Liberation Sans, Arial, sans-serif', size:10.5, color:'#444'}});

const layout = {width:W, height:H, margin:{l:0,r:0,t:0,b:0}, paper_bgcolor:'rgba(0,0,0,0)', plot_bgcolor:'rgba(0,0,0,0)', showlegend:false,
  xaxis:xAxis('y'), xaxis2:xAxis('y2'), yaxis:yAxis('x',63,437.7), yaxis2:yAxis('x2',549,923.3),
  shapes:[hline(genomeWideLine,'y','#f6b4b4',1.5), hline(suggestiveLine,'y','#bcbcf2',1.5), hline(genomeWideLine,'y2','#f7a6a6',1.2), hline(suggestiveLine,'y2','#c6c6f6',2)],
  annotations:[panelTag('a',37,34), panelTag('b',38,519)].concat(geneLabels.map(gene)).concat(captionLines.map(capLine)).concat([yTitle(228), yTitle(713.5)])};
Plotly.newPlot('chart', traces, layout, {staticPlot:true, displayModeBar:false});
</script>
</body>
</html>
